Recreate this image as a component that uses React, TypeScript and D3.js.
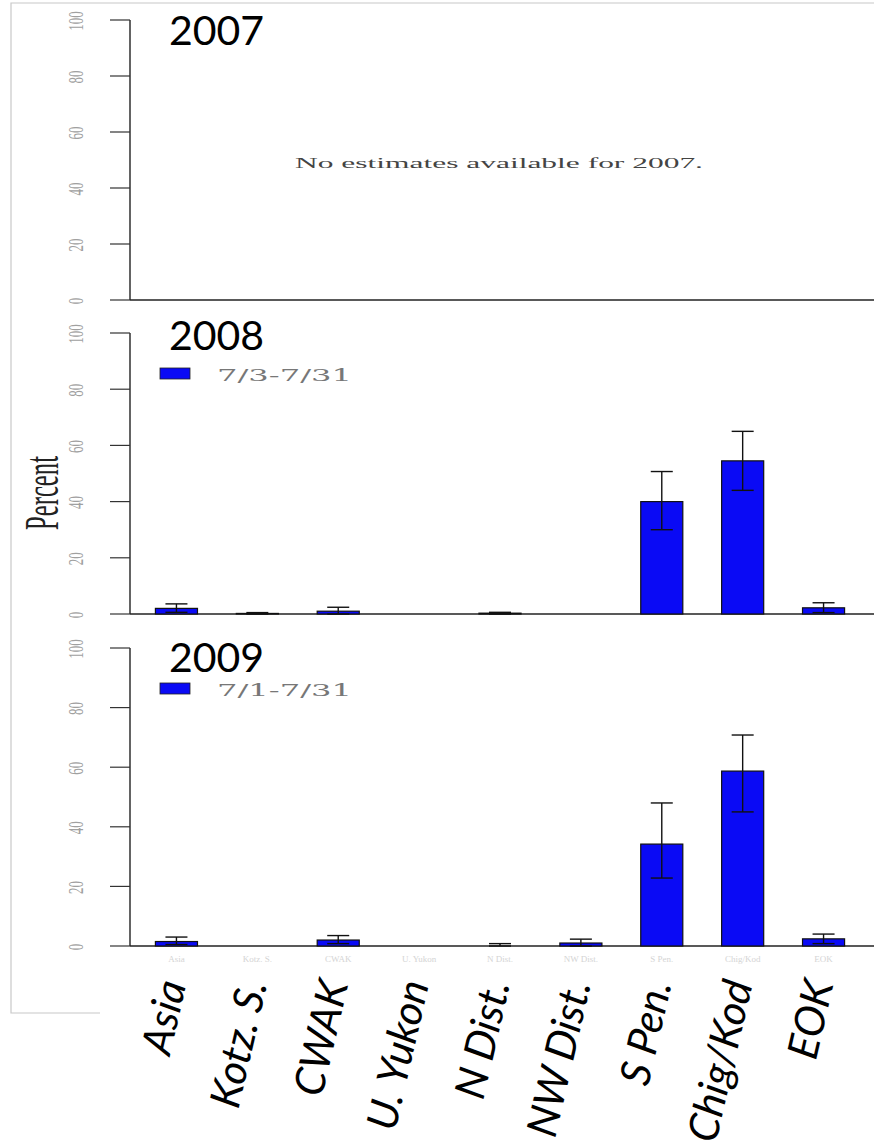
import * as d3 from 'd3';

const categories = ['Asia', 'Kotz. S.', 'CWAK', 'U. Yukon', 'N Dist.', 'NW Dist.', 'S Pen.', 'Chig/Kod', 'EOK'];

// 2008 (7/3-7/31)
const pct2008 = [2, 0.2, 1, 0, 0.3, 0, 40, 54.5, 2.2];
const lo2008 = [0.6, 0, 0, 0, 0, 0, 30, 44, 0.5];
const hi2008 = [3.6, 0.5, 2.4, 0, 0.6, 0, 50.7, 65, 4];

// 2009 (7/1-7/31)
const pct2009 = [1.5, 0, 2, 0, 0, 1, 34.2, 58.7, 2.4];
const lo2009 = [0.5, 0, 0.8, 0, 0, 0, 22.8, 45, 0.8];
const hi2009 = [3, 0, 3.5, 0, 0.8, 2.3, 48, 70.8, 4];

const yTicks = [0, 20, 40, 60, 80, 100];

const W = 874;
const H = 1148;
const BLUE = '#0a0af5';

const x = d3
  .scaleBand<string>()
  .domain(categories)
  .range([136, 864])
  .paddingInner(0.48)
  .paddingOuter(0.24);

interface PanelProps {
  top: number;
  bottom: number;
  year: string;
  titleY: number;
  legend?: string;
  values?: number[];
  lo?: number[];
  hi?: number[];
  message?: string;
}

const Panel = ({ top, bottom, year, titleY, legend, values, lo, hi, message }: PanelProps) => {
  const y = d3.scaleLinear().domain([0, 100]).range([bottom, top]);
  const axisX = 130;
  const bw = x.bandwidth();
  return (
    <g>
      {/* y axis */}
      <line x1={axisX} x2={axisX} y1={y(100)} y2={y(0)} stroke="#222" strokeWidth={1.4} />
      {yTicks.map((t) => (
        <g key={t}>
          <line x1={110} x2={axisX} y1={y(t)} y2={y(t)} stroke="#333" strokeWidth={1.2} />
          <text
            transform={`translate(83, ${y(t) + 1}) rotate(-90)`}
            textAnchor="middle"
            fontFamily="Liberation Serif, serif"
            fontSize={22}
            fill="#a0a0a0"
            textLength={String(t).length * 6.5}
            lengthAdjust="spacingAndGlyphs"
          >
            {t}
          </text>
        </g>
      ))}
      {/* baseline */}
      <line x1={axisX} x2={W} y1={y(0)} y2={y(0)} stroke="#222" strokeWidth={1.5} />
      <text x={169} y={titleY} fontFamily="Lato, sans-serif" fontSize={41} fill="#000">
        {year}
      </text>
      {message && (
        <text
          x={499}
          y={(top + bottom) / 2 + 8}
          textAnchor="middle"
          fontFamily="Liberation Serif, serif"
          fontSize={15}
          fill="#444"
          textLength={408}
          lengthAdjust="spacingAndGlyphs"
        >
          {message}
        </text>
      )}
      {legend && (
        <g>
          <rect x={160} y={top + 35} width={30} height={11} fill={BLUE} stroke="#222" strokeWidth={0.8} />
          <text
            x={217}
            y={top + 48}
            fontFamily="DejaVu Serif, serif"
            fontSize={17}
            fill="#777"
            textLength={135}
            lengthAdjust="spacingAndGlyphs"
          >
            {legend}
          </text>
        </g>
      )}
      {values &&
        values.map((v, i) => {
          const cx = (x(categories[i]) ?? 0) + bw / 2;
          return (
            <g key={categories[i]}>
              {v > 0 && (
                <rect
                  x={x(categories[i])}
                  y={y(v)}
                  width={bw}
                  height={y(0) - y(v)}
                  fill={BLUE}
                  stroke="#111"
                  strokeWidth={1.2}
                />
              )}
              {hi && lo && hi[i] > 0 && (
                <g stroke="#111" strokeWidth={1.4}>
                  <line x1={cx} x2={cx} y1={y(hi[i])} y2={y(lo[i])} />
                  <line x1={cx - 11} x2={cx + 11} y1={y(hi[i])} y2={y(hi[i])} />
                  <line x1={cx - 11} x2={cx + 11} y1={y(lo[i])} y2={y(lo[i])} />
                </g>
              )}
            </g>
          );
        })}
    </g>
  );
};

export default function App() {
  return (
    <svg
      width={W}
      height={H}
      style={{ position: 'absolute', left: 0, top: 0, background: '#fff', overflow: 'hidden' }}
    >
      {/* faint frame of the original figure */}
      <path d={`M100,1013 L11,1013 L11,3 L${W},3`} fill="none" stroke="#c8c8c8" strokeWidth={1.2} />

      <Panel top={20} bottom={300} year="2007" titleY={45} message="No estimates available for 2007." />
      <Panel top={333} bottom={614} year="2008" titleY={350} legend="7/3-7/31" values={pct2008} lo={lo2008} hi={hi2008} />
      <Panel top={648} bottom={946} year="2009" titleY={672} legend="7/1-7/31" values={pct2009} lo={lo2009} hi={hi2009} />

      <text
        transform="translate(58, 493) rotate(-90)"
        textAnchor="middle"
        fontFamily="Liberation Serif, serif"
        fontSize={48}
        fill="#222"
        textLength={74}
        lengthAdjust="spacingAndGlyphs"
      >
        Percent
      </text>

      {/* faint original tick labels under panel 3 */}
      {categories.map((c) => (
        <text
          key={'f' + c}
          x={(x(c) ?? 0) + x.bandwidth() / 2}
          y={962}
          textAnchor="middle"
          fontFamily="Liberation Serif, serif"
          fontSize={9}
          fill="#d4d4d4"
        >
          {c}
        </text>
      ))}

      {/* category labels */}
      {categories.map((c) => (
        <text
          key={c}
          transform={`translate(${(x(c) ?? 0) + x.bandwidth() / 2 + 10}, 984) rotate(-77)`}
          textAnchor="end"
          fontFamily="Lato, sans-serif"
          fontStyle="italic"
          fontSize={42}
          fill="#000"
        >
          {c}
        </text>
      ))}
    </svg>
  );
}
